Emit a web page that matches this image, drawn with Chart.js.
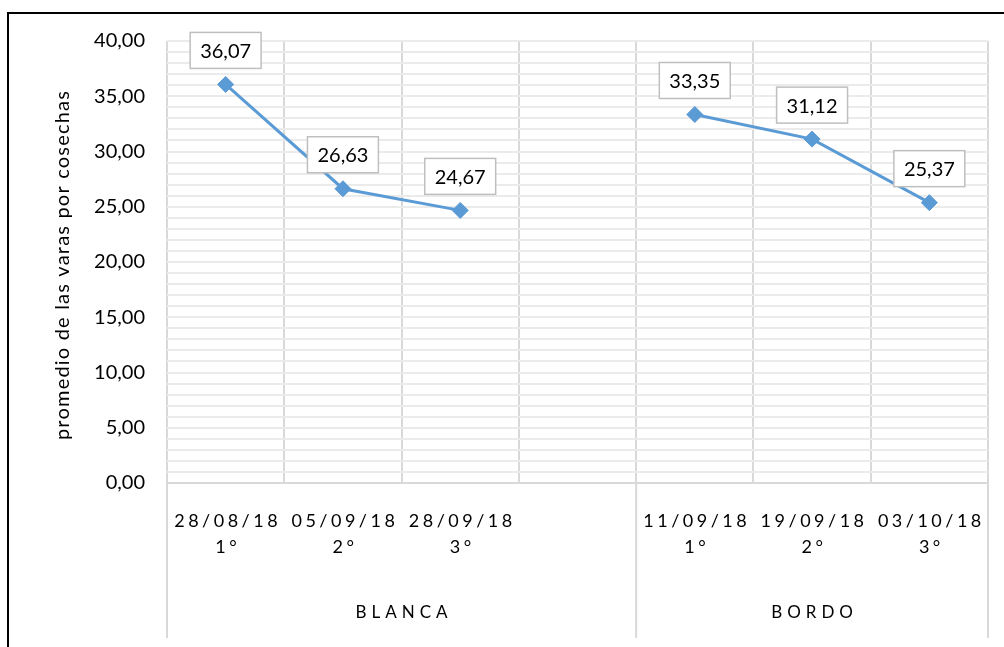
<!DOCTYPE html>
<html>
<head>
<meta charset="utf-8">
<script src="https://cdn.jsdelivr.net/npm/chart.js@4/dist/chart.umd.min.js"></script>
<style>
body{margin:0;background:#fff;}
#wrap{width:1004px;height:647px;}
</style>
</head>
<body>
<div id="wrap"><canvas id="chart" width="1004" height="647"></canvas></div>
<script>
// data
const dates = ['28/08/18', '05/09/18', '28/09/18', '', '11/09/18', '19/09/18', '03/10/18'];
const cuts = ['1°', '2°', '3°', '', '1°', '2°', '3°'];
const groups = ['BLANCA', 'BORDO'];
const groupSizes = [4, 3];
const values = [36.07, 26.63, 24.67, null, 33.35, 31.12, 25.37];
const yLabels = ['0,00', '5,00', '10,00', '15,00', '20,00', '25,00', '30,00', '35,00', '40,00'];
const yTitle = 'promedio de las varas por cosechas';

const font = 'Lato, Calibri, sans-serif';
const blue = '#5B9BD5';

// outer frame of the chart
const frame = {
    id: 'frame',
    beforeDraw(chart) {
        const ctx = chart.ctx;
        ctx.save();
        ctx.fillStyle = '#fff';
        ctx.fillRect(0, 0, chart.width, chart.height);
        ctx.strokeStyle = '#000';
        ctx.lineWidth = 2;
        ctx.beginPath();
        ctx.moveTo(8, chart.height);
        ctx.lineTo(8, 13);
        ctx.lineTo(chart.width, 13);
        ctx.stroke();
        ctx.restore();
    }
};

// y title (drawn here so it can be letter spaced like the original)
const yTitlePlugin = {
    id: 'yTitle',
    afterDraw(chart) {
        const ctx = chart.ctx;
        const a = chart.chartArea;
        ctx.save();
        ctx.translate(63, (a.top + a.bottom) / 2 + 3);
        ctx.rotate(-Math.PI / 2);
        ctx.font = '20px ' + font;
        ctx.letterSpacing = '1.2px';
        ctx.fillStyle = '#000';
        ctx.textAlign = 'center';
        ctx.textBaseline = 'middle';
        ctx.fillText(yTitle, 0, 0);
        ctx.restore();
    }
};

// two level category labels
const xLabels = {
    id: 'xLabels',
    afterDraw(chart) {
        const ctx = chart.ctx;
        const x = chart.scales.x;
        const bottom = chart.chartArea.bottom;
        const half = (x.getPixelForValue(1) - x.getPixelForValue(0)) / 2;
        ctx.save();
        ctx.fillStyle = '#000';
        ctx.textAlign = 'center';
        ctx.textBaseline = 'middle';
        ctx.font = '18px ' + font;
        ctx.letterSpacing = '3.5px';
        dates.forEach((d, i) => {
            const px = x.getPixelForValue(i) + 2;
            ctx.fillText(d, px, bottom + 38);
            ctx.fillText(cuts[i], px, bottom + 64);
        });
        ctx.font = '17px ' + font;
        ctx.letterSpacing = '5px';
        ctx.strokeStyle = '#d9d9d9';
        ctx.lineWidth = 2;
        let start = 0;
        const edges = [x.getPixelForValue(0) - half];
        groups.forEach((g, i) => {
            const end = start + groupSizes[i] - 1;
            const l = x.getPixelForValue(start) - half;
            const r = x.getPixelForValue(end) + half;
            ctx.fillText(g, (l + r) / 2 + 2.5, bottom + 130);
            edges.push(r);
            start = end + 1;
        });
        edges.forEach(e => {
            ctx.beginPath();
            ctx.moveTo(e, bottom);
            ctx.lineTo(e, bottom + 155);
            ctx.stroke();
        });
        ctx.restore();
    }
};

// value boxes above points
const valueLabels = {
    id: 'valueLabels',
    afterDatasetsDraw(chart) {
        const ctx = chart.ctx;
        const meta = chart.getDatasetMeta(0);
        ctx.save();
        ctx.font = '20px ' + font;
        ctx.textAlign = 'center';
        ctx.textBaseline = 'middle';
        meta.data.forEach((pt, i) => {
            if (values[i] === null) return;
            const txt = values[i].toFixed(2).replace('.', ',');
            const w = ctx.measureText(txt).width + 20;
            const h = 36;
            const cx = pt.x, cy = pt.y - 34;
            ctx.fillStyle = '#fff';
            ctx.fillRect(cx - w / 2, cy - h / 2, w, h);
            ctx.strokeStyle = '#bfbfbf';
            ctx.lineWidth = 1.5;
            ctx.strokeRect(cx - w / 2, cy - h / 2, w, h);
            ctx.fillStyle = '#000';
            ctx.fillText(txt, cx, cy + 1);
        });
        ctx.restore();
    }
};

new Chart(document.querySelector('#chart'), {
    type: 'line',
    data: {
        labels: dates,
        datasets: [{
            data: values,
            borderColor: blue,
            backgroundColor: blue,
            borderWidth: 3,
            pointStyle: 'rectRot',
            pointRadius: 8,
            pointBorderWidth: 1,
            pointBackgroundColor: blue,
            pointBorderColor: blue,
            spanGaps: false,
            tension: 0
        }]
    },
    options: {
        responsive: false,
        devicePixelRatio: 1,
        animation: false,
        layout: { padding: { top: 41, right: 16, bottom: 0, left: 0 } },
        plugins: { legend: { display: false }, tooltip: { enabled: false } },
        scales: {
            x: {
                offset: true,
                grid: { offset: true, color: '#d9d9d9', lineWidth: 2, drawTicks: false },
                border: { display: true, color: '#d9d9d9', width: 2 },
                ticks: { display: false },
                afterFit(scale) { scale.height = 164; }
            },
            y: {
                min: 0,
                max: 40,
                grid: { color: '#ebebeb', lineWidth: 2, drawTicks: false },
                border: { display: false },
                ticks: {
                    stepSize: 1,
                    autoSkip: false,
                    padding: 22,
                    color: '#000',
                    font: { family: font, size: 20 },
                    callback: v => (v % 5 === 0 ? yLabels[v / 5] : '')
                },
                afterFit(scale) { scale.width = 167; }
            }
        }
    },
    plugins: [frame, yTitlePlugin, xLabels, valueLabels]
});
</script>
</body>
</html>
